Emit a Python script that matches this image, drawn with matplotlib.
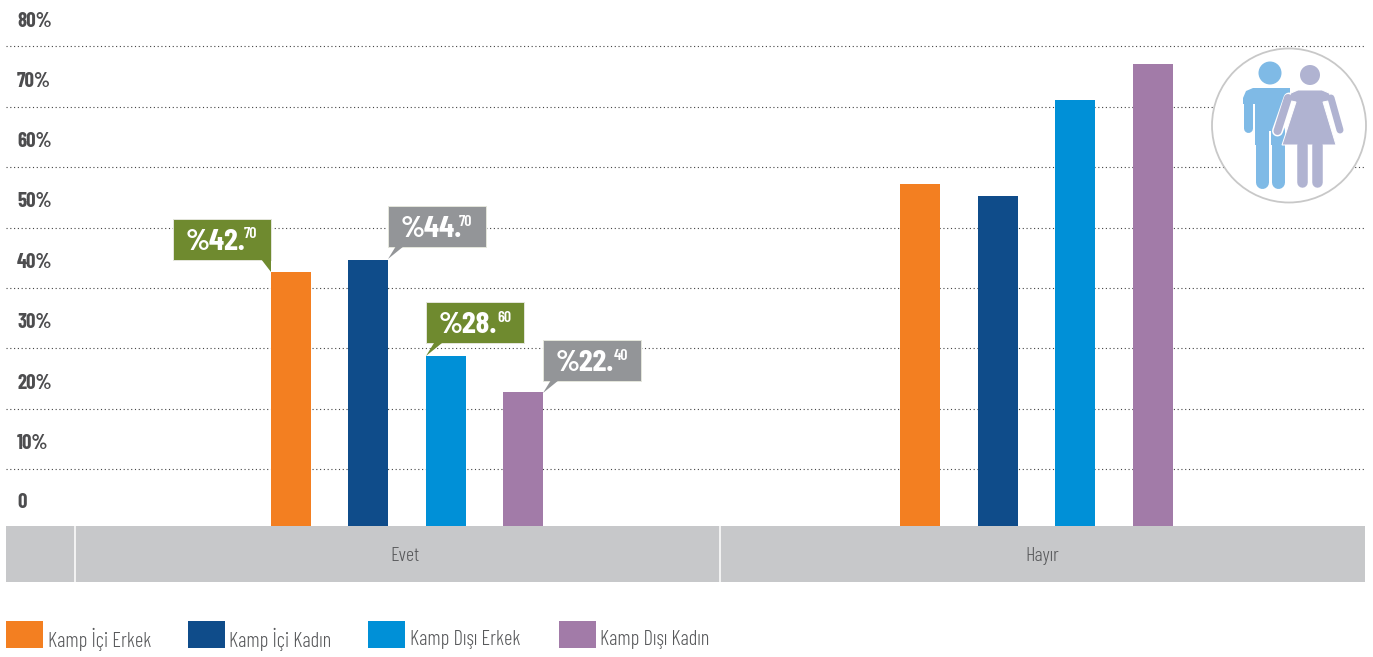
import matplotlib
matplotlib.use('Agg')
import matplotlib.pyplot as plt
from matplotlib.patches import Rectangle, Polygon, Circle
from matplotlib.transforms import Affine2D

plt.rcParams['font.family'] = ['Barlow Condensed', 'Liberation Sans', 'DejaVu Sans']

groups = ['Evet', 'Hayır']
series = ['Kamp İçi Erkek', 'Kamp İçi Kadın', 'Kamp Dışı Erkek', 'Kamp Dışı Kadın']
colors = ['#f37f21', '#0f4c8a', '#0090d7', '#a27ba8']
evet = [42.7, 44.7, 28.6, 22.4]
hayir = [57.3, 55.3, 71.4, 77.6]
tick_labels = ['80%', '70%', '60%', '50%', '40%', '30%', '20%', '10%', '0']
# the printed labels and dotted lines do not sit on the bar scale, so read off separately
label_levels = [85.1, 75.0, 65.0, 54.8, 44.7, 34.6, 24.4, 14.3, 4.4]
grid_levels = [80.5, 70.3, 60.2, 50.0, 40.0, 29.9, 19.7, 9.6]

W, H = 1373, 657
fig = plt.figure(figsize=(W / 100, H / 100), dpi=100)
ax = fig.add_axes([6 / W, (H - 526) / H, 1359 / W, 526 / H])
ax.set_ylim(0, 526 / 5.96)
ax.set_xlim((6 - 407) / 629.5, (1365 - 407) / 629.5)
ax.axis('off')

# pixel coords with origin top left, for the decoration
px = Affine2D().scale(1, -1).translate(0, H)

for lev in grid_levels:
    ax.axhline(lev, color='#444444', lw=0.8, dashes=(1, 2.4), zorder=1)

step = 77.5 / 629.5
for i, name in enumerate(series):
    off = (i - 1.5) * step
    ax.bar([0 + off, 1 + off], [evet[i], hayir[i]], width=40 / 629.5, color=colors[i], zorder=3)


def ptext(x, y, s, **kw):
    fig.text(x, y, s, transform=px, va='center', **kw)


def prect(x0, y0, x1, y1, **kw):
    fig.add_artist(Rectangle((x0, y0), x1 - x0, y1 - y0, transform=px, lw=kw.pop('lw', 0), **kw))


for lab, lev in zip(tick_labels, label_levels):
    ptext(17, 526 - lev * 5.96 + 2.5, lab, fontsize=15, fontweight='bold', color='#4d4d4f')

# category band
prect(6, 526, 1365, 582, facecolor='#c7c8ca')
prect(74, 526, 76, 582, facecolor='#f2f2f2')
prect(719, 526, 721, 582, facecolor='#f2f2f2')
ptext(405, 556, groups[0], fontsize=14.5, fontweight=300, color='#58595b', ha='center')
ptext(1042, 556, groups[1], fontsize=14.5, fontweight=300, color='#58595b', ha='center')

# legend
legend_x = [6, 188, 368, 559]
legend_tx = [48, 229, 410, 600]
for i, name in enumerate(series):
    prect(legend_x[i], 621, legend_x[i] + 37, 648, facecolor=colors[i])
    ptext(legend_tx[i], 639.5, name, fontsize=14.8, fontweight=300, color='#58595b')

# callouts
GREEN = '#6f8a2f'
GREY = '#939598'
callouts = [
    (173, 218.5, '%42.', '70', GREEN, [(261, 259), (271, 272), (271, 259)]),
    (388, 206, '%44.', '70', GREY, [(388, 259), (396, 246), (404, 246)]),
    (426, 302, '%28.', '60', GREEN, [(426, 356), (434, 343), (442, 343)]),
    (543, 340, '%22.', '40', GREY, [(543, 393), (551, 380), (559, 380)]),
]
for x, y, big, small, col, tail in callouts:
    prect(x, y, x + 98, y + 41, facecolor=col, edgecolor='#e4e6dc', lw=0.7, zorder=5)
    fig.add_artist(Polygon(tail, closed=True, transform=px, facecolor=col, lw=0, zorder=5))
    fig.text(x + 13, y + 23.5, big, transform=px, va='center', fontsize=22.5, fontweight='bold',
             color='white', zorder=6)
    fig.text(x + 71, y + 16, small, transform=px, va='center', fontsize=11.5, fontweight=600,
             color='white', zorder=6)

# people icon
fig.add_artist(Circle((1289, 125.5), 77, transform=px, facecolor='white', edgecolor='#c8c8c8', lw=1.3, zorder=7))
MAN = '#7fbae6'
WOMAN = '#b0b3d1'


def limb(xs, ys, col, w, z):
    line = plt.Line2D(xs, ys, transform=px, color=col, lw=w * 0.72, solid_capstyle='round',
                      solid_joinstyle='round', zorder=z)
    fig.add_artist(line)


fig.add_artist(Circle((1270, 73), 11.5, transform=px, facecolor=MAN, lw=0, zorder=8))
fig.add_artist(Polygon([(1243, 102), (1243, 98), (1246, 91), (1253, 88), (1290, 88), (1290, 104), (1284, 104),
                        (1284, 145), (1255, 145), (1255, 104), (1243, 104)],
                       closed=True, transform=px, facecolor=MAN, lw=0, zorder=8))
limb([1247.5, 1247.5], [100, 128], MAN, 9, 8)
limb([1261.5, 1261.5], [130, 182], MAN, 13, 8)
limb([1277.5, 1277.5], [130, 182], MAN, 13, 8)
prect(1268.5, 131, 1270.5, 190, facecolor='white', zorder=8.5)

fig.add_artist(Circle((1310, 75), 10, transform=px, facecolor=WOMAN, lw=0, zorder=9))
limb([1289, 1277.5], [98, 131], 'white', 11, 9)
limb([1331, 1340], [98, 130], 'white', 9, 9)
fig.add_artist(Polygon([(1282, 145), (1296, 102), (1287, 100), (1291, 93), (1298, 90), (1322, 90), (1329, 93),
                        (1333, 100), (1323, 102), (1336, 145)], closed=True, transform=px, facecolor=WOMAN,
                       edgecolor='white', lw=0.7, zorder=9.1))
limb([1288, 1277.5], [98, 131], WOMAN, 8, 9.2)
limb([1331, 1340], [98, 130], WOMAN, 7, 9.2)
limb([1302, 1302], [145, 182], WOMAN, 10.5, 9.2)
limb([1317, 1317], [145, 182], WOMAN, 10.5, 9.2)

fig.savefig('out.png', dpi=100)
